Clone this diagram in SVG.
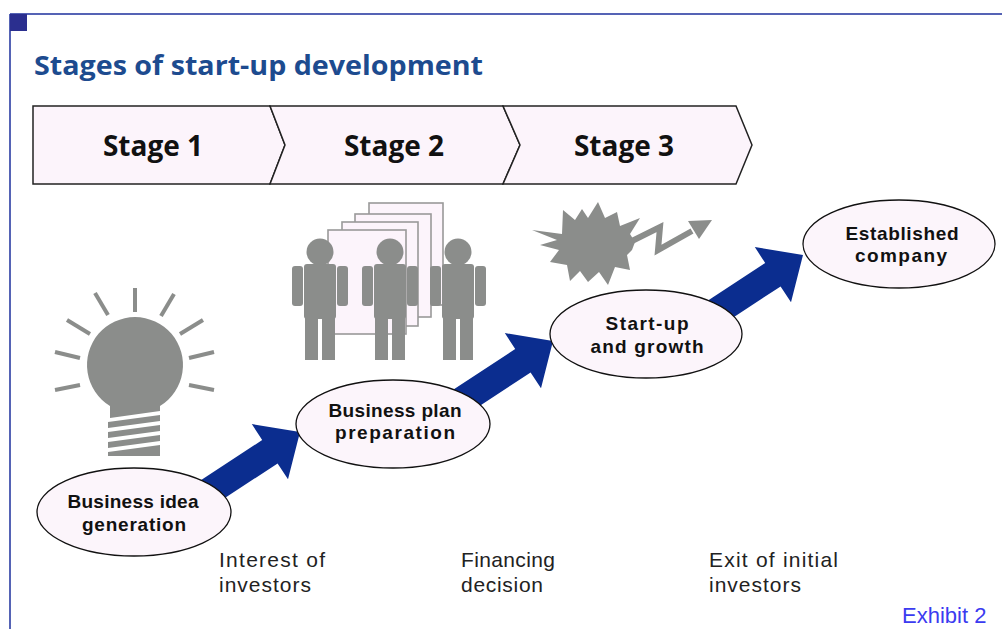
<svg xmlns="http://www.w3.org/2000/svg" width="1002" height="629" viewBox="0 0 1002 629">
<style>
.frame{stroke:#5563b5;stroke-width:2;fill:none}
.title{font-family:"Open Sans","Liberation Sans",sans-serif;font-weight:bold;font-size:26px;fill:#1d4b8f}
.stage{fill:#fcf4fb;stroke:#222;stroke-width:1.5;stroke-linejoin:miter}
.stxt{font-family:"Open Sans","Liberation Sans",sans-serif;font-weight:bold;font-size:28px;fill:#111;text-anchor:middle}
.node{fill:#fcf5fb;stroke:#111;stroke-width:1.3}
.ntxt{font-family:"Liberation Sans",Arial,sans-serif;font-weight:bold;font-size:19px;fill:#111;text-anchor:middle}
.lbl{font-family:"Liberation Sans",Arial,sans-serif;font-size:21px;fill:#222}
.exh{font-family:"Liberation Sans",Arial,sans-serif;font-size:22px;fill:#3b3bf0}
.gray{fill:#8b8d8b}
.ray{stroke:#8b8d8b;stroke-width:4;fill:none}
.doc{fill:#fcf4fb;stroke:#999;stroke-width:1.6}
.arrow{fill:#0b2d8f}
</style>
<defs>
<g id="person" class="gray">
<circle cx="0" cy="252" r="13.5"/>
<rect x="-28" y="266" width="11" height="40" rx="3"/>
<rect x="-16" y="264" width="32" height="55" rx="3"/>
<rect x="17" y="266" width="11" height="40" rx="3"/>
<rect x="-15" y="316" width="13" height="44"/>
<rect x="2" y="316" width="13" height="44"/>
</g>
</defs>
<rect width="1002" height="629" fill="#fff"/>
<g id="frame">
<line class="frame" x1="10" y1="14" x2="1002" y2="14"/>
<line class="frame" x1="10" y1="14" x2="10" y2="629"/>
<rect x="10" y="14" width="17" height="17" fill="#2b2f8f"/>
</g>
<text id="title" class="title" x="34" y="75" textLength="449" lengthAdjust="spacingAndGlyphs">Stages of start-up development</text>
<g id="stages">
<polygon class="stage" points="33,106 270,106 285,145 270,184 33,184"/>
<polygon class="stage" points="270,106 503,106 520,145 503,184 270,184 285,145"/>
<polygon class="stage" points="503,106 736,106 752,145 736,184 503,184 520,145"/>
<text class="stxt" x="153" y="156">Stage 1</text>
<text class="stxt" x="394" y="156">Stage 2</text>
<text class="stxt" x="624" y="156">Stage 3</text>
</g>
<g id="bulb">
<path class="gray" d="M110,418 L110,406 A48,48 0 1 1 160,406 L160,411 Z"/>
<polygon class="gray" points="108,428 160,421 160,415 108,422"/>
<polygon class="gray" points="108,438 160,431 160,425 108,432"/>
<polygon class="gray" points="108,448 160,441 160,435 108,442"/>
<polygon class="gray" points="108,456 160,456 160,445 108,452"/>
<line class="ray" x1="135" y1="288" x2="135" y2="312"/>
<line class="ray" x1="95" y1="293" x2="108" y2="315"/>
<line class="ray" x1="174" y1="294" x2="161" y2="316"/>
<line class="ray" x1="67" y1="320" x2="90" y2="334"/>
<line class="ray" x1="203" y1="320" x2="180" y2="334"/>
<line class="ray" x1="55" y1="352" x2="80" y2="358"/>
<line class="ray" x1="214" y1="352" x2="189" y2="358"/>
<line class="ray" x1="55" y1="390" x2="80" y2="385"/>
<line class="ray" x1="214" y1="390" x2="189" y2="385"/>
</g>
<g id="team">
<rect class="doc" x="369" y="203" width="74" height="102"/>
<rect class="doc" x="355" y="214" width="76" height="103"/>
<rect class="doc" x="342" y="222" width="76" height="104"/>
<rect class="doc" x="328" y="230" width="78" height="104"/>
<use href="#person" x="320"/>
<use href="#person" x="390"/>
<use href="#person" x="458"/>
</g>
<g id="burst" class="gray">
<polygon points="532,230 562,234 563,210 575,220 582,209 588,218 598,202 605,218 617,212 620,226 640,218 630,234 635,242 632,250 627,255 630,270 615,267 608,285 599,272 588,282 580,271 570,281 567,265 550,262 559,250 540,245 557,240"/>
<polyline points="632,241 660,227 658,250 692,231" fill="none" stroke="#8b8d8b" stroke-width="6" stroke-linejoin="miter"/>
<polygon points="712,220 699,239 688,221"/>
</g>
<g id="connectors">
<polygon class="arrow" points="175.3,497 262.2,440 251.8,424.1 300,432 288,479.3 277.6,463.4 190.7,520.4"/>
<polygon class="arrow" points="428.3,406 515.2,349 504.8,333.1 553,341 541,388.3 530.6,372.4 443.7,429.4"/>
<polygon class="arrow" points="678.3,320 765.2,263 754.8,247.1 803,255 791,302.3 780.6,286.4 693.7,343.4"/>
</g>
<g id="node-idea">
<ellipse class="node" cx="134" cy="512" rx="97" ry="44"/>
<text class="ntxt" x="133" y="508" textLength="131">Business idea</text>
<text class="ntxt" x="134" y="531" textLength="104">generation</text>
</g>
<g id="node-plan">
<ellipse class="node" cx="393" cy="424" rx="97" ry="44"/>
<text class="ntxt" x="395" y="417" textLength="133">Business plan</text>
<text class="ntxt" x="395" y="439" textLength="120">preparation</text>
</g>
<g id="node-startup">
<ellipse class="node" cx="646" cy="334" rx="96" ry="44"/>
<text class="ntxt" x="647" y="330" textLength="83">Start-up</text>
<text class="ntxt" x="647" y="353" textLength="113">and growth</text>
</g>
<g id="node-established">
<ellipse class="node" cx="899" cy="244" rx="96" ry="44"/>
<text class="ntxt" x="902" y="240" textLength="113">Established</text>
<text class="ntxt" x="901" y="262" textLength="92">company</text>
</g>
<g id="labels">
<text class="lbl" x="219" y="567" textLength="106">Interest of</text>
<text class="lbl" x="219" y="592" textLength="92">investors</text>
<text class="lbl" x="461" y="567" textLength="94">Financing</text>
<text class="lbl" x="461" y="592" textLength="82">decision</text>
<text class="lbl" x="709" y="567" textLength="129">Exit of initial</text>
<text class="lbl" x="709" y="592" textLength="92">investors</text>
<text class="exh" x="902" y="623">Exhibit 2</text>
</g>
</svg>
